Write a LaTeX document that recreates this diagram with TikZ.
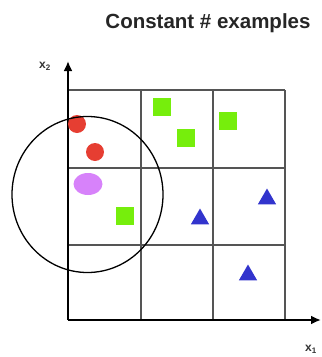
\documentclass[tikz,border=0pt]{standalone}
\usepackage{fontspec}
\setmainfont{Liberation Sans}
\usepackage{tikz}
\usetikzlibrary{arrows.meta,shapes.geometric}
\definecolor{dotred}{RGB}{230,62,50}
\definecolor{sqgreen}{RGB}{118,238,12}
\definecolor{triblue}{RGB}{50,52,205}
\definecolor{qpink}{RGB}{215,130,250}
\definecolor{gridgray}{RGB}{85,85,85}
\tikzset{
  axis/.style={-{Latex[length=10pt,width=9pt]},line width=2.2pt},
  cell/.style={draw=gridgray,line width=1.7pt},
  reddot/.style={circle,fill=dotred,inner sep=0,minimum size=18pt},
  greensq/.style={rectangle,fill=sqgreen,inner sep=0,minimum size=18pt},
  bluetri/.style={regular polygon,regular polygon sides=3,fill=triblue,inner sep=0,minimum size=21pt},
  query/.style={ellipse,fill=qpink,inner sep=0,minimum width=29pt,minimum height=22pt},
  axlabel/.style={font=\bfseries\fontsize{12}{14}\selectfont,text=black!80}
}

\begin{document}
\begin{tikzpicture}[x=1pt,y=-1pt]
  \useasboundingbox (0,0) rectangle (322,357);
  \node[font=\bfseries\fontsize{20.5}{24}\selectfont,text=black!85] (title) at (208,23) {Constant \# examples};
  % cells
  \foreach \x in {141,213,285} \draw[cell] (\x,90) -- (\x,320);
  \foreach \y in {90,168,245} \draw[cell] (68,\y) -- (285,\y);
  % axes
  \coordinate (o) at (68,320);
  \coordinate (xend) at (321,320);
  \coordinate (yend) at (68,61);
  \draw[axis] (o) -- (xend);
  \draw[axis] (o) -- (yend);
  \node[axlabel] (xtwo) at (45,66) {x\textsubscript{2}};
  \node[axlabel] (xone) at (311,349) {x\textsubscript{1}};
  % examples
  \node[reddot] (r1) at (77,124) {};
  \node[reddot] (r2) at (95,152) {};
  \node[greensq] (g1) at (162,107) {};
  \node[greensq] (g2) at (186,138) {};
  \node[greensq] (g3) at (228,121) {};
  \node[greensq] (g4) at (125,216) {};
  \node[bluetri] (b1) at (200,219) {};
  \node[bluetri] (b2) at (267,199) {};
  \node[bluetri] (b3) at (248,275) {};
  \node[query] (q) at (88,184) {};
  % neighbourhood
  \node[draw,ellipse,line width=1.3pt,inner sep=0,minimum width=151pt,minimum height=156pt] (nbhd) at (87.5,194.5) {};
\end{tikzpicture}
\end{document}
